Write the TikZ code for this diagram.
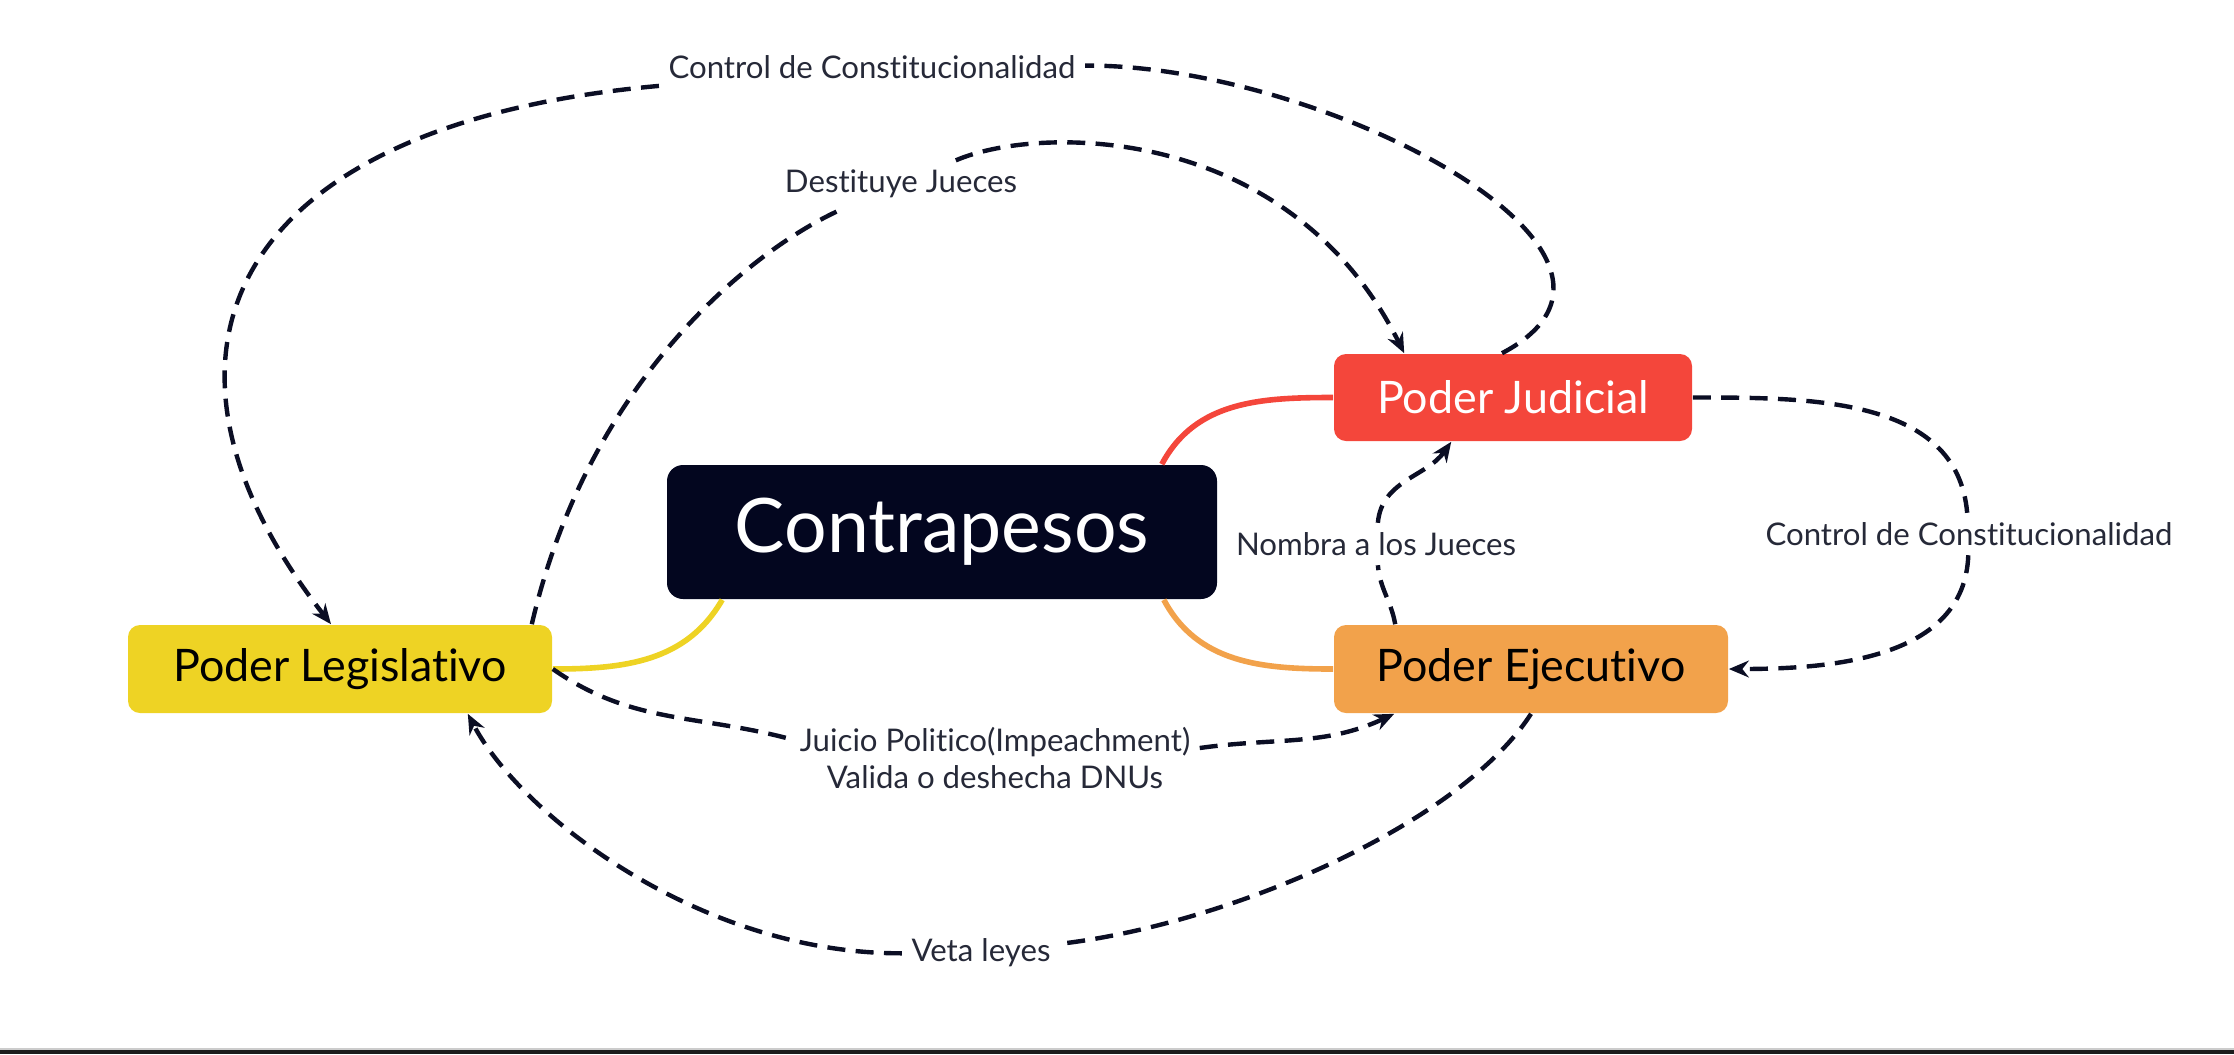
\documentclass[tikz,border=0pt]{standalone}
\usepackage{fontspec}
\setmainfont{Lato}[Ligatures=NoCommon]
\usetikzlibrary{arrows.meta}
\usetikzlibrary{calc}

\definecolor{navy}{HTML}{03061F}
\definecolor{tinta}{HTML}{0B0E24}
\definecolor{rojo}{HTML}{F4463B}
\definecolor{amarillo}{HTML}{EED324}
\definecolor{naranja}{HTML}{F2A24B}
\definecolor{rotulo}{HTML}{262938}
\definecolor{barra}{HTML}{1C1C1C}

\tikzset{
  power/.style={rounded corners=3pt, minimum height=22pt, inner sep=0pt,
    font=\fontsize{11.2}{13}\selectfont, text=black},
  tag/.style={inner sep=2.2pt, text=rotulo, font=\fontsize{7.8}{9.2}\selectfont},
  branch/.style={line width=1.4pt},
  check/.style={draw=tinta, line width=1.1pt, dash pattern=on 4.5pt off 2.6pt,
    -{Stealth[length=5pt,width=4.2pt]}}
}

\begin{document}
\begin{tikzpicture}[x=0.25pt, y=0.25pt]
        \useasboundingbox (0,0) rectangle (2234,1054);
        \fill[barra] (0,0) rectangle (2234,4.5);
        \draw[gray!40, line width=0.5pt] (0,5) -- (2234,5);

        \node[power, fill=navy, text=white, minimum width=137.5pt, minimum height=33.5pt,
          rounded corners=4pt, font=\fontsize{18.8}{20}\selectfont] (nodeC) at (942,522) {Contrapesos};
        \node[power, fill=rojo, text=white, minimum width=89.5pt, minimum height=21.75pt] (nodeJ) at (1513,656.5) {Poder Judicial};
        \node[power, fill=amarillo, minimum width=106pt] (nodeL) at (340,385) {Poder Legislativo};
        \node[power, fill=naranja, minimum width=98.5pt] (nodeE) at (1531,385) {Poder Ejecutivo};

        \node[tag] (lab1) at (872,987) {Control de Constitucionalidad};
        \node[tag] (lab2) at (901,870) {Destituye Jueces};
        \node[tag] (lab3) at (1376,510) {Nombra a los Jueces};
        \node[tag] (lab4) at (1969,520) {Control de Constitucionalidad};
        \node[tag, align=center] (lab5) at (995,296) {Juicio Politico(Impeachment)\\Valida o deshecha DNUs};
        \node[tag] (lab6) at (981,101) {Veta leyes};

        \draw[branch, amarillo] (nodeL.east) to[out=0, in=-120] ($(nodeC.south west)+(56,0)$);
        \draw[branch, rojo] ($(nodeC.north east)+(-56,0)$) to[out=62, in=180] (nodeJ.west);
        \draw[branch, naranja] ($(nodeC.south east)+(-54,0)$) to[out=-62, in=180] (nodeE.west);

        \draw[check] ($(nodeJ.north)+(-11,0)$) .. controls (1690,800) and (1320,990) .. (lab1)
          (lab1) .. controls (230,930) and (120,700) .. ($(nodeL.north)+(-9,0)$);
        \draw[check] ($(nodeL.north east)+(-21,0)$) .. controls (590,680) and (760,810) .. (lab2)
          (lab2) .. controls (1040,930) and (1290,930) .. ($(nodeJ.north west)+(71,0)$);
        \draw[check] ($(nodeE.north west)+(62,0)$) to[out=100, in=-85] (lab3)
          (lab3) to[out=85, in=235] ($(nodeJ.south west)+(118,0)$);
        \draw[check] (nodeJ.east) to[out=0, in=95] (lab4)
          (lab4) to[out=-92, in=0] (nodeE.east);
        \draw[check] (nodeL.east) to[out=-35, in=165] ($(lab5.west)+(0,19)$)
          ($(lab5.east)+(0,10)$) to[out=8, in=205] ($(nodeE.south west)+(61,0)$);
        \draw[check] (nodeE.south) .. controls (1460,230) and (1230,130) .. (lab6)
          (lab6) .. controls (700,100) and (520,240) .. ($(nodeL.south east)+(-85,0)$);
    \end{tikzpicture}
\end{document}
